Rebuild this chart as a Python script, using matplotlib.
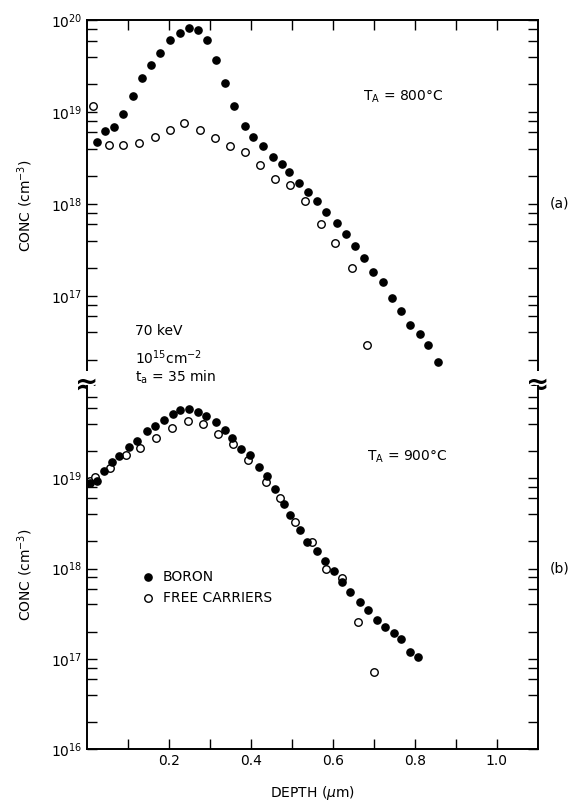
import numpy as np
import matplotlib.pyplot as plt
from matplotlib.ticker import FixedLocator, FixedFormatter, NullFormatter

# (a) T_A = 800 C
depth_b_800 = [0.024, 0.045, 0.065, 0.089, 0.112, 0.134, 0.156, 0.179, 0.202, 0.226,
               0.248, 0.272, 0.293, 0.315, 0.338, 0.359, 0.385, 0.405, 0.429, 0.453,
               0.476, 0.494, 0.517, 0.540, 0.562, 0.584, 0.610, 0.632, 0.654, 0.676,
               0.699, 0.722, 0.745, 0.766, 0.789, 0.813, 0.833, 0.856]
logc_b_800 = [18.67, 18.79, 18.84, 18.98, 19.17, 19.37, 19.51, 19.64, 19.78, 19.86,
              19.91, 19.89, 19.78, 19.57, 19.32, 19.07, 18.85, 18.73, 18.63, 18.51,
              18.44, 18.35, 18.23, 18.13, 18.03, 17.91, 17.79, 17.67, 17.54, 17.41,
              17.26, 17.15, 16.98, 16.83, 16.68, 16.59, 16.46, 16.28]
depth_f_800 = [0.016, 0.053, 0.088, 0.128, 0.165, 0.202, 0.238, 0.275, 0.313, 0.350,
               0.386, 0.423, 0.459, 0.496, 0.532, 0.571, 0.606, 0.646, 0.683]
logc_f_800 = [19.07, 18.64, 18.64, 18.66, 18.73, 18.80, 18.88, 18.81, 18.72, 18.63,
              18.56, 18.42, 18.27, 18.21, 18.03, 17.78, 17.58, 17.30, 16.47]

# (b) T_A = 900 C
depth_b_900 = [0.008, 0.024, 0.041, 0.061, 0.079, 0.102, 0.122, 0.146, 0.165, 0.187,
               0.209, 0.228, 0.250, 0.271, 0.291, 0.315, 0.336, 0.355, 0.376, 0.398,
               0.419, 0.439, 0.458, 0.482, 0.496, 0.519, 0.537, 0.562, 0.580, 0.602,
               0.622, 0.642, 0.665, 0.685, 0.707, 0.726, 0.748, 0.767, 0.789, 0.807]
logc_b_900 = [18.95, 18.97, 19.08, 19.18, 19.25, 19.35, 19.42, 19.52, 19.58, 19.65,
              19.71, 19.76, 19.77, 19.74, 19.69, 19.63, 19.54, 19.45, 19.33, 19.26,
              19.13, 19.03, 18.88, 18.72, 18.59, 18.43, 18.29, 18.20, 18.08, 17.97,
              17.85, 17.74, 17.63, 17.54, 17.43, 17.35, 17.29, 17.22, 17.08, 17.02]
depth_f_900 = [0.008, 0.020, 0.057, 0.096, 0.130, 0.169, 0.207, 0.246, 0.283, 0.319,
               0.356, 0.394, 0.437, 0.472, 0.508, 0.549, 0.584, 0.622, 0.662, 0.701]
logc_f_900 = [18.97, 19.02, 19.12, 19.26, 19.34, 19.45, 19.56, 19.64, 19.60, 19.49,
              19.38, 19.20, 18.96, 18.78, 18.52, 18.29, 17.99, 17.90, 17.41, 16.85]

x_ticks = [0.1, 0.2, 0.3, 0.4, 0.5, 0.6, 0.7, 0.8, 0.9, 1.0]
x_labels = ['', '0.2', '', '0.4', '', '0.6', '', '0.8', '', '1.0']

plt.rcParams['font.family'] = 'DejaVu Sans'
fig = plt.figure(figsize=(5.79, 8.05), dpi=100)

ax1 = fig.add_axes([0.150, 0.524, 0.779, 0.451])
ax2 = fig.add_axes([0.150, 0.0696, 0.779, 0.4504])

minor = []
for e in range(16, 20):
    for m in [2, 4, 6, 8]:
        minor.append(m * 10.0 ** e)


def style(ax, ylo, yhi, majors, labels):
    ax.set_xlim(0, 1.1)
    ax.set_yscale('log')
    ax.set_ylim(ylo, yhi)
    ax.yaxis.set_major_locator(FixedLocator(majors))
    ax.yaxis.set_major_formatter(FixedFormatter(labels))
    ax.yaxis.set_minor_locator(FixedLocator(minor))
    ax.yaxis.set_minor_formatter(NullFormatter())
    ax.xaxis.set_major_locator(FixedLocator(x_ticks))
    ax.tick_params(axis='both', which='both', direction='in', length=7, width=1.0,
                   labelsize=10, right=True, top=True)
    for s in ax.spines.values():
        s.set_linewidth(1.4)


def plot_pts(ax, xb, yb, xf, yf):
    ax.plot(xb, 10.0 ** np.array(yb), 'o', color='black', markersize=5.2, zorder=3)
    ax.plot(xf, 10.0 ** np.array(yf), 'o', mfc='white', mec='black', mew=1.0,
            markersize=5.4, zorder=2)


# graphe (a)
plot_pts(ax1, depth_b_800, logc_b_800, depth_f_800, logc_f_800)
style(ax1, 10 ** 16.05, 1e20, [1e17, 1e18, 1e19, 1e20],
      ['$10^{17}$', '$10^{18}$', '$10^{19}$', '$10^{20}$'])
ax1.spines['bottom'].set_visible(False)
ax1.tick_params(axis='x', bottom=False, labelbottom=False)
ax1.text(0.674, 10 ** 19.17, '$\\mathregular{T_A}$ = 800°C', fontsize=10, va='center')
ax1.text(0.118, 10 ** 16.62, '70 keV', fontsize=10, va='center')
ax1.text(0.118, 10 ** 16.33, '$\\mathregular{10^{15}cm^{-2}}$', fontsize=10, va='center')
ax1.text(0.118, 10 ** 16.11, '$\\mathregular{t_a}$ = 35 min', fontsize=10, va='center')
ax1.text(1.13, 1e18, '(a)', fontsize=10, va='center')

# graphe (b)
plot_pts(ax2, depth_b_900, logc_b_900, depth_f_900, logc_f_900)
style(ax2, 1e16, 10 ** 20.02, [1e16, 1e17, 1e18, 1e19],
      ['$10^{16}$', '$10^{17}$', '$10^{18}$', '$10^{19}$'])
ax2.spines['top'].set_visible(False)
ax2.tick_params(axis='x', top=False)
ax2.xaxis.set_major_formatter(FixedFormatter(x_labels))
ax2.text(0.683, 10 ** 19.24, '$\\mathregular{T_A}$ = 900°C', fontsize=10, va='center')
ax2.text(1.13, 1e18, '(b)', fontsize=10, va='center')
ax2.plot([0.148], [10 ** 17.91], 'o', color='black', markersize=5.2)
ax2.plot([0.148], [10 ** 17.67], 'o', mfc='white', mec='black', mew=1.0, markersize=5.4)
ax2.text(0.185, 10 ** 17.91, 'BORON', fontsize=10, va='center')
ax2.text(0.185, 10 ** 17.67, 'FREE CARRIERS', fontsize=10, va='center')
ax2.set_xlabel('DEPTH ($\\mu$m)', fontsize=10, labelpad=12)

# break marks
for xb in [0, 1]:
    ax1.text(xb, -0.004, '≈', transform=ax1.transAxes, ha='center', va='center',
             fontsize=20, fontweight='bold', zorder=5,
             bbox=dict(facecolor='white', edgecolor='none', pad=0.0))

fig.text(0.043, 0.745, 'CONC (cm$^{-3}$)', rotation=90, ha='center', va='center', fontsize=10)
fig.text(0.043, 0.286, 'CONC (cm$^{-3}$)', rotation=90, ha='center', va='center', fontsize=10)

fig.savefig('out.png', dpi=100)
